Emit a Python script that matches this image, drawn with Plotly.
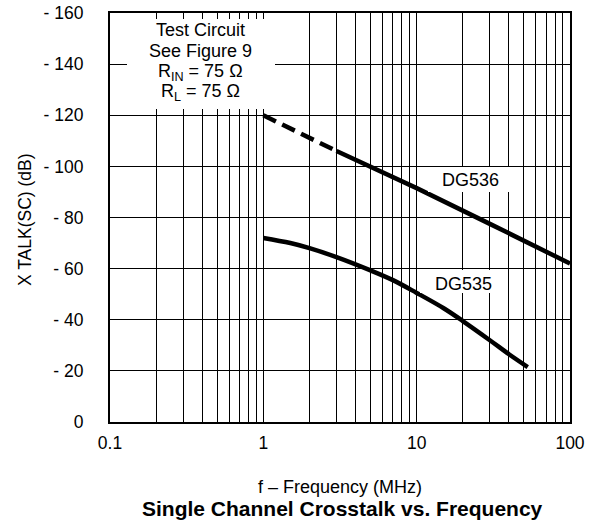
import plotly.graph_objects as go

# Data
dg536_dash_f = [1, 3]
dg536_dash_db = [-120, -106]
dg536_f = [3, 10, 30, 100]
dg536_db = [-106, -91.5, -77.5, -62]
dg535_f = [1, 1.5, 2, 3, 5, 7, 10, 15, 20, 30, 40, 53]
dg535_db = [-72, -70, -68, -64.5, -59.3, -55.5, -50.5, -44.5, -39.5, -32, -26.5, -21.5]

x_tickvals = [m * d for d in (0.1, 1, 10) for m in range(1, 10)] + [100]
x_ticktext = ["0.1" if v == 0.1 else "1" if v == 1 else "10" if v == 10 else "100" if v == 100 else "" for v in x_tickvals]
y_tickvals = [0, -20, -40, -60, -80, -100, -120, -140, -160]
y_ticktext = ["0", "- 20", "- 40", "- 60", "- 80", "- 100", "- 120", "- 140", "- 160"]

box_lines = ["Test Circuit", "See Figure 9", "R<sub>IN</sub> = 75 Ω", "R<sub>L</sub> = 75 Ω"]

FONT = "Liberation Sans, Arial, Helvetica, sans-serif"

# plot area in pixels (for converting layout positions)
W, H = 603, 523
L, R, T, B = 110, 570, 13, 422


def px(x):
    return (x - L) / (R - L)


def py(y):
    return (B - y) / (B - T)


fig = go.Figure()
fig.add_trace(go.Scatter(x=dg536_dash_f, y=dg536_dash_db, mode="lines",
                         line=dict(color="black", width=4.5, dash="14px,7px"), showlegend=False))
fig.add_trace(go.Scatter(x=dg536_f, y=dg536_db, mode="lines",
                         line=dict(color="black", width=4.5), showlegend=False))
fig.add_trace(go.Scatter(x=dg535_f, y=dg535_db, mode="lines", line_shape="spline",
                         line=dict(color="black", width=4.5, smoothing=1.0), showlegend=False))

shapes = []
for (x0, y0, x1, y1) in [(127, 19, 275, 109), (428, 167, 513, 192), (420, 270, 506, 293)]:
    shapes.append(dict(type="rect", xref="paper", yref="paper",
                       x0=px(x0), x1=px(x1), y0=py(y1), y1=py(y0),
                       fillcolor="white", line=dict(width=0), layer="above"))

annotations = []
for text, yc in zip(box_lines, [30.5, 51, 72.5, 92.5]):
    annotations.append(dict(xref="paper", yref="paper", x=px(200.5), y=py(yc),
                            xanchor="center", yanchor="middle", text=text,
                            showarrow=False, font=dict(size=18)))
annotations += [
    dict(xref="paper", yref="paper", x=px(470.5), y=py(179.5), text="DG536",
         xanchor="center", yanchor="middle", showarrow=False, font=dict(size=18)),
    dict(xref="paper", yref="paper", x=px(463), y=py(283.5), text="DG535",
         xanchor="center", yanchor="middle", showarrow=False, font=dict(size=18)),
    dict(xref="paper", yref="paper", x=px(25), y=py(220), text="X TALK(SC) (dB)",
         xanchor="center", yanchor="middle",
         textangle=-90, showarrow=False, font=dict(size=17.5)),
    dict(xref="paper", yref="paper", x=0.5, y=py(487), xanchor="center", yanchor="middle",
         text="f – Frequency (MHz)", showarrow=False, font=dict(size=18)),
    dict(xref="paper", yref="paper", x=0.505, y=py(508), xanchor="center", yanchor="middle",
         text="<b>Single Channel Crosstalk vs. Frequency</b>", showarrow=False,
         font=dict(size=21)),
]

fig.update_layout(
    width=W, height=H,
    margin=dict(l=L, r=W - R, t=T, b=H - B, autoexpand=False),
    paper_bgcolor="white", plot_bgcolor="white",
    font=dict(family=FONT, size=17.5, color="black"),
    xaxis=dict(type="log", range=[-1, 2], tickvals=x_tickvals, ticktext=x_ticktext,
               showgrid=True, gridcolor="black", gridwidth=1.2, automargin=False,
               showline=True, linecolor="black", linewidth=2, mirror=True,
               ticks="", ticklabelstandoff=4, zeroline=False,
               tickfont=dict(size=17.5)),
    yaxis=dict(range=[0, -160], tickvals=y_tickvals, ticktext=y_ticktext,
               showgrid=True, gridcolor="black", gridwidth=1.2, automargin=False,
               showline=True, linecolor="black", linewidth=2, mirror=True,
               ticks="", ticklabelstandoff=21, zeroline=False,
               tickfont=dict(size=17.5)),
    shapes=shapes,
    annotations=annotations,
)

fig.write_html("out.html", config={"displayModeBar": False},
               post_script="document.body.style.margin='0';")
